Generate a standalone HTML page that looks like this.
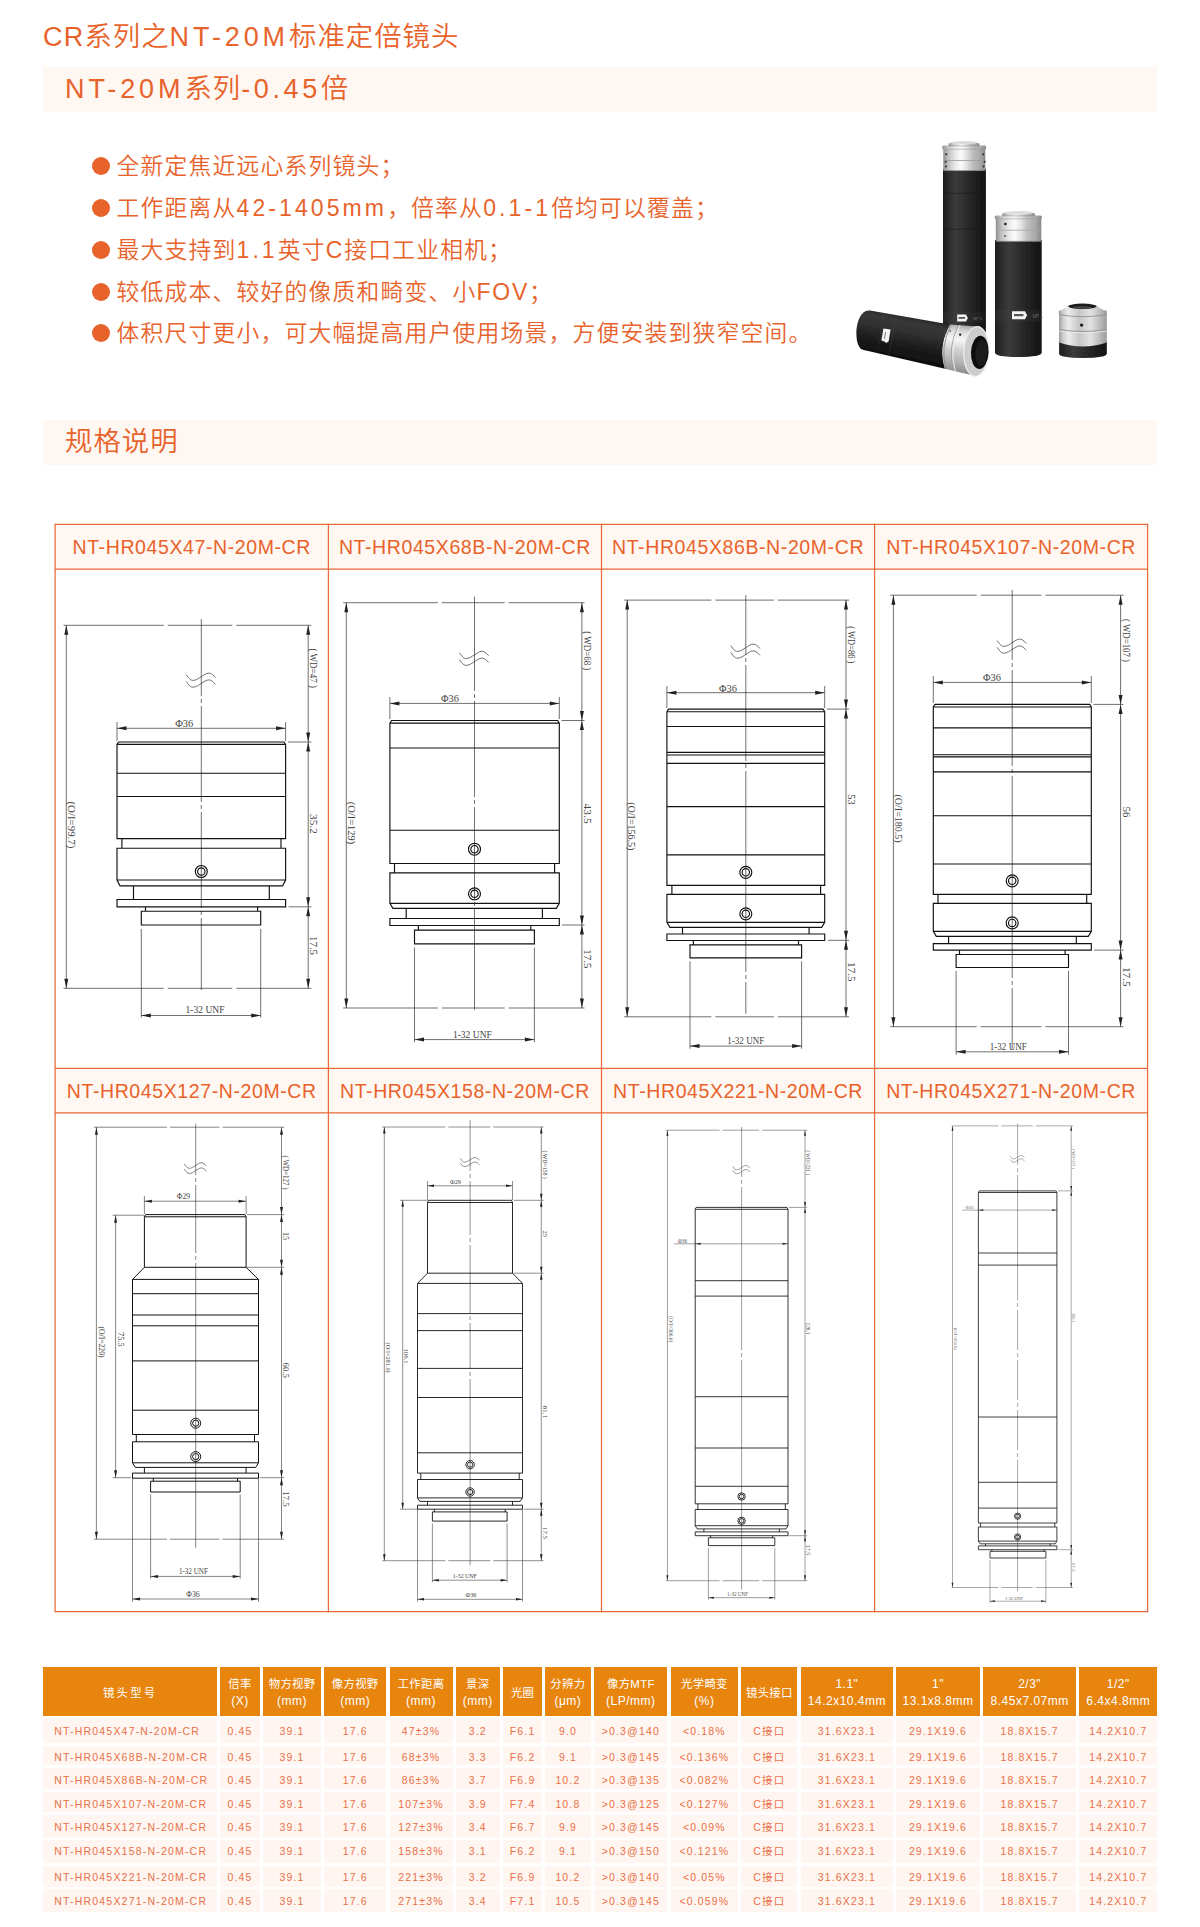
<!DOCTYPE html><html lang="zh-CN"><head><meta charset="utf-8"><title>CR系列之NT-20M标准定倍镜头</title><style>
*{box-sizing:border-box;margin:0;padding:0}
html,body{width:1200px;height:1927px;background:#fff;overflow:hidden}
body{font-family:"Liberation Sans","Noto Sans CJK SC",sans-serif;color:#e8632b;position:relative;font-weight:350}
.abs{position:absolute;white-space:nowrap}
b{font-weight:inherit}
.title{left:43px;top:18px;font-size:27.4px;line-height:38px;letter-spacing:1px}
.title b,.banner b{font-size:27px}
.bul b{font-size:23px}
.bul b.n{letter-spacing:3.1px}
.bul b.u{letter-spacing:1.75px}
.banner{left:43px;width:1114px;height:45px;background:#fff7f2}
.banner span{position:absolute;left:22px;top:0;line-height:43px;font-size:27.4px;letter-spacing:1px;white-space:nowrap}
.bul{left:92px;font-size:22.8px;line-height:30px;letter-spacing:1.2px}
.bul i{position:absolute;left:0;top:6px;width:18px;height:18px;border-radius:50%;background:#e8632b}
.bul span{margin-left:24.5px}
.gh{position:absolute;height:45px;line-height:46px;text-align:center;font-size:19.5px;letter-spacing:0.6px;background:#fff7f2;white-space:nowrap;font-weight:400}
.th{position:absolute;top:1667px;height:49px;background:#e8850f;color:#fff;text-align:center;font-size:11.4px;line-height:16.8px;padding-top:2.8px;white-space:nowrap;display:flex;flex-direction:column;justify-content:center;font-weight:400;letter-spacing:0.3px}
.th b{font-size:12px;letter-spacing:0.5px}
.td{position:absolute;background:#fff6f1;color:#ea7046;text-align:center;font-size:10.5px;white-space:nowrap;letter-spacing:1.15px;font-weight:400}
</style></head><body>
<div class="abs title"><b style="letter-spacing:1.2px">CR</b>系列之<b style="letter-spacing:3.9px">NT-20M</b>标准定倍镜头</div>
<div class="abs banner" style="top:67px"><span><b style="letter-spacing:3.9px">NT-20M</b>系列<b style="letter-spacing:3.6px">-0.45</b>倍</span></div>
<div class="abs bul" style="top:151.0px"><i></i><span>全新定焦近远心系列镜头；</span></div>
<div class="abs bul" style="top:193.3px"><i></i><span>工作距离从<b class="n">42-1405mm</b>，倍率从<b class="n">0.1-1</b>倍均可以覆盖；</span></div>
<div class="abs bul" style="top:235.0px"><i></i><span>最大支持到<b class="n">1.1</b>英寸<b class="u">C</b>接口工业相机；</span></div>
<div class="abs bul" style="top:276.7px"><i></i><span>较低成本、较好的像质和畸变、小<b class="u">FOV</b>；</span></div>
<div class="abs bul" style="top:317.7px"><i></i><span>体积尺寸更小，可大幅提高用户使用场景，方便安装到狭窄空间。</span></div>
<svg class="abs" style="left:830px;top:120px" width="320" height="260" viewBox="830 120 320 260">
<defs>
<linearGradient id="gk" x1="0" x2="1" y1="0" y2="0"><stop offset="0" stop-color="#1d1d1d"/><stop offset=".08" stop-color="#272727"/><stop offset=".3" stop-color="#3b3b3b"/><stop offset=".55" stop-color="#2b2b2b"/><stop offset=".8" stop-color="#1d1d1d"/><stop offset="1" stop-color="#121212"/></linearGradient>
<linearGradient id="gs" x1="0" x2="1" y1="0" y2="0"><stop offset="0" stop-color="#8c8c8c"/><stop offset=".05" stop-color="#a6a6a6"/><stop offset=".13" stop-color="#c4c4c4"/><stop offset=".3" stop-color="#ececec"/><stop offset=".42" stop-color="#fbfbfb"/><stop offset=".55" stop-color="#e4e4e4"/><stop offset=".7" stop-color="#bebebe"/><stop offset=".88" stop-color="#a8a8a8"/><stop offset="1" stop-color="#888"/></linearGradient>
<linearGradient id="gc" x1="0" x2="1" y1="0" y2="0"><stop offset="0" stop-color="#999"/><stop offset=".07" stop-color="#c9c9c9"/><stop offset=".2" stop-color="#ececec"/><stop offset=".42" stop-color="#c6c6c6"/><stop offset=".66" stop-color="#e2e2e2"/><stop offset=".85" stop-color="#bdbdbd"/><stop offset="1" stop-color="#9a9a9a"/></linearGradient>
<linearGradient id="gkd" gradientUnits="userSpaceOnUse" x1="912" y1="316" x2="903" y2="361"><stop offset="0" stop-color="#262626"/><stop offset=".15" stop-color="#383838"/><stop offset=".38" stop-color="#2f2f2f"/><stop offset=".65" stop-color="#1c1c1c"/><stop offset="1" stop-color="#0d0d0d"/></linearGradient>
<linearGradient id="gsd" gradientUnits="userSpaceOnUse" x1="962" y1="325" x2="955" y2="372"><stop offset="0" stop-color="#a8a8a8"/><stop offset=".14" stop-color="#dadada"/><stop offset=".32" stop-color="#f6f6f6"/><stop offset=".55" stop-color="#cfcfcf"/><stop offset=".8" stop-color="#b0b0b0"/><stop offset="1" stop-color="#8d8d8d"/></linearGradient>
<filter id="soft" x="-5%" y="-5%" width="110%" height="110%"><feGaussianBlur stdDeviation="0.45"/></filter>
</defs>
<g filter="url(#soft)">
<rect x="943" y="169" width="42.9" height="165" fill="url(#gk)"/>
<path d="M943 193.2H985.9M943 229.2H985.9" stroke="#171717" stroke-width=".6" fill="none"/>
<rect x="943" y="312" width="42.9" height="10" fill="#3a3a3a" opacity=".22"/>
<rect x="943.3" y="148.5" width="42" height="22.3" fill="url(#gs)"/>
<path d="M943.3 160.5H985.3" stroke="#9a9a9a" stroke-width=".8"/>
<path d="M943.3 170.6H985.3" stroke="#777" stroke-width=".6"/>
<rect x="942.2" y="145.6" width="44" height="3.8" rx="1.6" fill="url(#gs)"/>
<path d="M942.6 149.2H985.8" stroke="#999" stroke-width=".6"/>
<path d="M948.6 146V143.4Q964 138.4 979.5 143.4V146Z" fill="url(#gs)"/>
<ellipse cx="964" cy="142.6" rx="13.5" ry="1.7" fill="#dcdcdc"/>
<path d="M948.8 145.9H979.3" stroke="#8e8e8e" stroke-width=".6"/>
<circle cx="946.3" cy="154.3" r="1" fill="#33291f"/>
<circle cx="945.6" cy="161.8" r="1" fill="#33291f"/>
<circle cx="946.0" cy="166.6" r="1" fill="#33291f"/>
<circle cx="983.3" cy="154.3" r="1" fill="#33291f"/>
<circle cx="984.6" cy="161.8" r="1" fill="#33291f"/>
<circle cx="983.6" cy="166.6" r="1" fill="#33291f"/>
<path d="M957.2 314.6H966l1.8 3.4-1.8 3.4H957.2Z" fill="#f4f4f4"/>
<rect x="958.6" y="317" width="6.5" height="1.8" fill="#555"/>
<text x="973" y="320" font-size="4" fill="#6a6a6a" font-family="'Liberation Sans',sans-serif">MP 1</text>
<path d="M995 240H1041.7V352.5Q1041.7 357 1018.3 357Q995 357 995 352.5Z" fill="url(#gk)"/>
<rect x="995" y="309.8" width="46.7" height="11.6" fill="#444" opacity=".22"/>
<rect x="995.8" y="218.2" width="45.5" height="23.3" fill="url(#gs)"/>
<path d="M995.8 230.2H1041.3" stroke="#a2a2a2" stroke-width=".8"/>
<path d="M995.8 241.3H1041.3" stroke="#777" stroke-width=".6"/>
<rect x="994.7" y="215.6" width="47.2" height="3.4" rx="1.5" fill="url(#gs)"/>
<path d="M995 218.8H1041.6" stroke="#999" stroke-width=".6"/>
<path d="M1002.3 216V213.4Q1018.5 208.6 1034.9 213.4V216Z" fill="url(#gs)"/>
<ellipse cx="1018.6" cy="212.8" rx="14" ry="1.7" fill="#dedede"/>
<path d="M1002.5 215.9H1034.7" stroke="#8e8e8e" stroke-width=".6"/>
<circle cx="1005.4" cy="224" r="1.3" fill="#1c1c1c"/><circle cx="1005.2" cy="236" r="1.1" fill="#6b5a48"/>
<path d="M1012 311.2H1025l2 4-2 4H1012Z" fill="#f4f4f4"/>
<rect x="1014" y="314" width="9.5" height="2.2" fill="#555"/>
<text x="1032.6" y="317.5" font-size="4.5" fill="#6a6a6a" font-family="'Liberation Sans',sans-serif">MP 1</text>
<path d="M1059.1 341H1106.8V353.6Q1106.8 358 1083 358Q1059.1 358 1059.1 353.6Z" fill="url(#gk)"/>
<path d="M1059.1 314H1106.8V342.5Q1083 350.5 1059.1 342.5Z" fill="url(#gc)"/>
<path d="M1059.1 329.6Q1083 333.4 1106.8 329.6" stroke="#8e8e8e" stroke-width=".9" fill="none"/>
<path d="M1059.1 331Q1083 334.8 1106.8 331" stroke="#efefef" stroke-width=".8" fill="none"/>
<path d="M1058.8 311.5Q1058.8 310 1062 310L1068 306H1096.8L1103 310Q1106.9 310 1106.9 311.5V314.2Q1083 318.4 1058.8 314.2Z" fill="url(#gc)"/>
<path d="M1059.4 314.6Q1083 318.8 1106.4 314.6" stroke="#8a8a8a" stroke-width=".8" fill="none"/>
<ellipse cx="1082.4" cy="306.3" rx="14.2" ry="2.7" fill="#1a1a1a"/>
<ellipse cx="1082.4" cy="307.4" rx="10" ry="1.3" fill="#444"/>
<circle cx="1081.6" cy="325.1" r="1.7" fill="#1e1e1e"/>
<path d="M870 310.6L950 324.4Q938 347 945 368.8L863.8 350C852 348.6 854.5 308.4 870 310.6Z" fill="url(#gkd)"/>
<path d="M896.3 315.2L888.6 355.6" stroke="#4a4a4a" stroke-width=".6" opacity=".6"/>
<path d="M884.5 313.2L877.5 353" stroke="#4a4a4a" stroke-width=".5" opacity=".5"/>
<path d="M950 324.4L977 326.4L976 376.2L945 368.8Q938 347 950 324.4Z" fill="url(#gsd)"/>
<path d="M951.2 324.8Q939.4 347 946.2 369" stroke="#8c8c8c" stroke-width=".9" fill="none"/>
<path d="M958.4 325.2Q947 348 953.6 370.8" stroke="#9a9a9a" stroke-width=".8" fill="none"/>
<path d="M960 325.3Q948.6 348 955.2 371.2" stroke="#f4f4f4" stroke-width=".9" fill="none"/>
<ellipse cx="976.3" cy="351.4" rx="12.4" ry="24.9" transform="rotate(3 976.3 351.4)" fill="#cdcdcd" stroke="#eee" stroke-width="1.2"/>
<ellipse cx="979.8" cy="352.4" rx="8.8" ry="16.6" transform="rotate(3 979.6 352.4)" fill="#0f0f0f"/>
<ellipse cx="981.4" cy="352.8" rx="6" ry="13" transform="rotate(3 981.4 352.8)" fill="#1c1c1c"/>
<circle cx="950.2" cy="331" r=".9" fill="#7a6a58"/><circle cx="960.2" cy="334.6" r="1.2" fill="#222"/>
<path d="M883.4 328.4L890.6 329.6L888.6 341.6L886.2 343L884.4 341.6L881.4 340.4Z" fill="#f3f3f3"/>
<path d="M885.6 332L884.4 339" stroke="#777" stroke-width="1"/>
</g></svg>
<div class="abs banner" style="top:420px"><span>规格说明</span></div>
<div class="gh" style="left:55.1px;top:524.4px;width:273.3px">NT-HR045X47-N-20M-CR</div>
<div class="gh" style="left:328.4px;top:524.4px;width:273.1px">NT-HR045X68B-N-20M-CR</div>
<div class="gh" style="left:601.5px;top:524.4px;width:273.1px">NT-HR045X86B-N-20M-CR</div>
<div class="gh" style="left:874.6px;top:524.4px;width:273.0px">NT-HR045X107-N-20M-CR</div>
<div class="gh" style="left:55.1px;top:1068.3px;width:273.3px">NT-HR045X127-N-20M-CR</div>
<div class="gh" style="left:328.4px;top:1068.3px;width:273.1px">NT-HR045X158-N-20M-CR</div>
<div class="gh" style="left:601.5px;top:1068.3px;width:273.1px">NT-HR045X221-N-20M-CR</div>
<div class="gh" style="left:874.6px;top:1068.3px;width:273.0px">NT-HR045X271-N-20M-CR</div>
<svg class="abs" style="left:0;top:0" width="1200" height="1927" viewBox="0 0 1200 1927">
<g stroke="#e9693a" stroke-width="1.25" fill="none">
<line x1="55.1" y1="523.8" x2="55.1" y2="1612.3"/>
<line x1="328.4" y1="523.8" x2="328.4" y2="1612.3"/>
<line x1="601.5" y1="523.8" x2="601.5" y2="1612.3"/>
<line x1="874.6" y1="523.8" x2="874.6" y2="1612.3"/>
<line x1="1147.6" y1="523.8" x2="1147.6" y2="1612.3"/>
<line x1="55.1" y1="524.4" x2="1147.6" y2="524.4"/>
<line x1="55.1" y1="569.1" x2="1147.6" y2="569.1"/>
<line x1="55.1" y1="1068.3" x2="1147.6" y2="1068.3"/>
<line x1="55.1" y1="1112.9" x2="1147.6" y2="1112.9"/>
<line x1="55.1" y1="1611.7" x2="1147.6" y2="1611.7"/>
</g>
<path d="M63.5 625.3L163.8 625.3M167.8 625.3L232.3 625.3M236.3 625.3L311.3 625.3M63.5 988.3L163.8 988.3M167.8 988.3L232.3 988.3M236.3 988.3L311.3 988.3M201.3 619.0L201.3 696.0M201.3 699.0L201.3 703.0M201.3 706.0L201.3 802.0M201.3 805.0L201.3 809.0M201.3 812.0L201.3 908.0M201.3 911.0L201.3 915.0M201.3 918.0L201.3 990.0M66.3 625.3L66.3 988.3M308.2 625.3L308.2 742.0M308.2 742.0L308.2 906.8M308.2 906.8L308.2 988.3M288.0 742.0L311.3 742.0M288.5 906.8L311.3 906.8M186.3 674.6C189.3 679.1 190.8 680.4 193.0 680.4C196.3 680.4 198.8 678.1 201.3 676.6C203.8 675.1 206.3 673.1 208.7 673.1C211.3 673.1 213.3 675.1 215.4 677.5M186.3 681.4C189.3 685.9 190.8 687.2 193.0 687.2C196.3 687.2 198.8 684.9 201.3 683.4C203.8 681.9 206.3 679.9 208.7 679.9C211.3 679.9 213.3 681.9 215.4 684.3M117.0 728.3L285.6 728.3M117.0 722.0L117.0 741.0M285.6 722.0L285.6 741.0M141.3 929.0L141.3 1017.6M260.7 929.0L260.7 1017.6M141.3 1015.5L260.7 1015.5" fill="none" stroke="#333" stroke-width="0.70"/>
<path d="M117.0 744.4L118.6 742.0L284.0 742.0L285.6 744.4L285.6 838.6L117.0 838.6ZM117.0 744.4L285.6 744.4M117.0 773.2L285.6 773.2M117.0 796.5L285.6 796.5M121.9 838.6L121.9 848.2M281.0 838.6L281.0 848.2M117.0 848.2L285.6 848.2L285.6 880.0L282.6 885.8L120.0 885.8L117.0 880.0ZM117.0 880.0L285.6 880.0M133.5 885.8L133.5 899.5M269.3 885.8L269.3 899.5M117.0 899.5L285.6 899.5L285.6 906.8L117.0 906.8ZM145.5 906.8L145.5 911.2M257.6 906.8L257.6 911.2M141.3 911.2L260.7 911.2L260.7 925.0L141.3 925.0ZM195.3 871.5a6.0 6.0 0 1 0 12.0 0a6.0 6.0 0 1 0 -12.0 0M197.6 871.5a3.7 3.7 0 1 0 7.4 0a3.7 3.7 0 1 0 -7.4 0" fill="#fff" fill-opacity="0" stroke="#111" stroke-width="1.15" stroke-linejoin="miter"/>
<path d="M66.3 625.3L68.3 634.8L64.3 634.8ZM66.3 988.3L64.3 978.8L68.3 978.8ZM308.2 625.3L310.2 634.8L306.2 634.8ZM308.2 742.0L306.2 732.5L310.2 732.5ZM308.2 742.0L310.2 751.5L306.2 751.5ZM308.2 906.8L306.2 897.3L310.2 897.3ZM308.2 906.8L310.2 916.3L306.2 916.3ZM308.2 988.3L306.2 978.8L310.2 978.8ZM117.0 728.3L126.5 726.3L126.5 730.3ZM285.6 728.3L276.1 730.3L276.1 726.3ZM141.3 1015.5L150.8 1013.5L150.8 1017.5ZM260.7 1015.5L251.2 1017.5L251.2 1013.5Z" fill="#222" stroke="none"/>
<g font-family="'Liberation Serif',serif" fill="#444"><text transform="translate(67.7 824.9) rotate(90)" font-size="10.4" text-anchor="middle" textLength="47.0" lengthAdjust="spacingAndGlyphs">(O/I=99.7)</text><text transform="translate(310.3 668.2) rotate(90)" font-size="10.4" text-anchor="middle" textLength="39.5" lengthAdjust="spacingAndGlyphs">( WD=47 )</text><text transform="translate(310.3 823.9) rotate(90)" font-size="10.4" text-anchor="middle" textLength="19.7" lengthAdjust="spacingAndGlyphs">35.2</text><text transform="translate(310.3 945.5) rotate(90)" font-size="10.4" text-anchor="middle" textLength="19.2" lengthAdjust="spacingAndGlyphs">17.5</text><text x="184.2" y="727.1" font-size="10.4" text-anchor="middle" textLength="18.0" lengthAdjust="spacingAndGlyphs">Φ36</text><text x="205.0" y="1013.4" font-size="10.4" text-anchor="middle" textLength="39.0" lengthAdjust="spacingAndGlyphs">1-32 UNF</text></g>
<path d="M343.2 602.7L437.9 602.7M441.9 602.7L504.7 602.7M508.7 602.7L584.5 602.7M343.2 1008.0L437.9 1008.0M441.9 1008.0L504.7 1008.0M508.7 1008.0L584.5 1008.0M474.5 596.7L474.5 691.0M474.5 694.0L474.5 698.0M474.5 701.0L474.5 797.0M474.5 800.0L474.5 804.0M474.5 807.0L474.5 899.0M474.5 902.0L474.5 906.0M474.5 909.0L474.5 1009.8M346.3 602.7L346.3 1008.0M581.9 602.7L581.9 720.5M581.9 720.5L581.9 925.0M581.9 925.0L581.9 1008.0M561.5 720.5L584.5 720.5M562.0 925.0L584.5 925.0M459.5 652.8C462.5 657.3 464.0 658.6 466.2 658.6C469.5 658.6 472.0 656.3 474.5 654.8C477.0 653.3 479.5 651.3 481.9 651.3C484.5 651.3 486.5 653.3 488.6 655.7M459.5 659.6C462.5 664.1 464.0 665.4 466.2 665.4C469.5 665.4 472.0 663.1 474.5 661.6C477.0 660.1 479.5 658.1 481.9 658.1C484.5 658.1 486.5 660.1 488.6 662.5M389.9 703.4L559.3 703.4M389.9 697.0L389.9 719.0M559.3 697.0L559.3 719.0M414.5 947.5L414.5 1042.2M534.4 947.5L534.4 1042.2M414.5 1039.6L534.4 1039.6" fill="none" stroke="#333" stroke-width="0.70"/>
<path d="M389.9 723.1L391.5 720.5L557.7 720.5L559.3 723.1L559.3 863.5L389.9 863.5ZM389.9 723.1L559.3 723.1M389.9 748.0L559.3 748.0M389.9 830.2L559.3 830.2M394.5 863.5L394.5 872.8M554.6 863.5L554.6 872.8M389.9 872.8L559.3 872.8L559.3 903.4L556.3 908.3L392.9 908.3L389.9 903.4ZM389.9 903.4L559.3 903.4M406.2 908.3L406.2 918.5M542.4 908.3L542.4 918.5M389.9 918.5L559.3 918.5L559.3 925.5L389.9 925.5ZM418.4 925.5L418.4 930.1M530.8 925.5L530.8 930.1M414.5 930.1L534.4 930.1L534.4 943.9L414.5 943.9ZM468.5 849.2a6.0 6.0 0 1 0 12.0 0a6.0 6.0 0 1 0 -12.0 0M470.8 849.2a3.7 3.7 0 1 0 7.4 0a3.7 3.7 0 1 0 -7.4 0M468.5 893.8a6.0 6.0 0 1 0 12.0 0a6.0 6.0 0 1 0 -12.0 0M470.8 893.8a3.7 3.7 0 1 0 7.4 0a3.7 3.7 0 1 0 -7.4 0" fill="#fff" fill-opacity="0" stroke="#111" stroke-width="1.15" stroke-linejoin="miter"/>
<path d="M346.3 602.7L348.3 612.2L344.3 612.2ZM346.3 1008.0L344.3 998.5L348.3 998.5ZM581.9 602.7L583.9 612.2L579.9 612.2ZM581.9 720.5L579.9 711.0L583.9 711.0ZM581.9 720.5L583.9 730.0L579.9 730.0ZM581.9 925.0L579.9 915.5L583.9 915.5ZM581.9 925.0L583.9 934.5L579.9 934.5ZM581.9 1008.0L579.9 998.5L583.9 998.5ZM389.9 703.4L399.4 701.4L399.4 705.4ZM559.3 703.4L549.8 705.4L549.8 701.4ZM414.5 1039.6L424.0 1037.6L424.0 1041.6ZM534.4 1039.6L524.9 1041.6L524.9 1037.6Z" fill="#222" stroke="none"/>
<g font-family="'Liberation Serif',serif" fill="#444"><text transform="translate(347.7 823.0) rotate(90)" font-size="10.4" text-anchor="middle" textLength="42.4" lengthAdjust="spacingAndGlyphs">(O/I=129)</text><text transform="translate(584.0 650.8) rotate(90)" font-size="10.4" text-anchor="middle" textLength="39.0" lengthAdjust="spacingAndGlyphs">( WD=68 )</text><text transform="translate(584.0 813.6) rotate(90)" font-size="10.4" text-anchor="middle" textLength="20.0" lengthAdjust="spacingAndGlyphs">43.5</text><text transform="translate(584.0 958.9) rotate(90)" font-size="10.4" text-anchor="middle" textLength="19.2" lengthAdjust="spacingAndGlyphs">17.5</text><text x="450.0" y="702.2" font-size="10.4" text-anchor="middle" textLength="18.0" lengthAdjust="spacingAndGlyphs">Φ36</text><text x="472.4" y="1037.5" font-size="10.4" text-anchor="middle" textLength="39.0" lengthAdjust="spacingAndGlyphs">1-32 UNF</text></g>
<path d="M624.1 600.1L711.4 600.1M715.4 600.1L773.9 600.1M777.9 600.1L849.1 600.1M624.1 1016.8L711.4 1016.8M715.4 1016.8L773.9 1016.8M777.9 1016.8L849.1 1016.8M745.8 595.2L745.8 655.0M745.8 658.0L745.8 662.0M745.8 665.0L745.8 761.0M745.8 764.0L745.8 768.0M745.8 771.0L745.8 972.0M745.8 975.0L745.8 979.0M745.8 982.0L745.8 1013.7M627.2 600.1L627.2 1016.8M846.0 600.1L846.0 709.1M846.0 709.1L846.0 940.3M846.0 940.3L846.0 1016.8M827.0 709.1L849.1 709.1M828.0 940.3L849.1 940.3M730.8 645.6C733.8 650.1 735.3 651.4 737.5 651.4C740.8 651.4 743.3 649.1 745.8 647.6C748.3 646.1 750.8 644.1 753.2 644.1C755.8 644.1 757.8 646.1 759.9 648.5M730.8 652.4C733.8 656.9 735.3 658.2 737.5 658.2C740.8 658.2 743.3 655.9 745.8 654.4C748.3 652.9 750.8 650.9 753.2 650.9C755.8 650.9 757.8 652.9 759.9 655.3M666.9 692.7L824.7 692.7M666.9 686.0L666.9 708.0M824.7 686.0L824.7 708.0M690.0 961.3L690.0 1048.7M801.6 961.3L801.6 1048.7M690.0 1046.1L801.6 1046.1" fill="none" stroke="#333" stroke-width="0.70"/>
<path d="M666.9 711.7L668.5 709.1L823.1 709.1L824.7 711.7L824.7 885.3L666.9 885.3ZM666.9 711.7L824.7 711.7M666.9 726.5L824.7 726.5M666.9 752.4L824.7 752.4M666.9 755.0L824.7 755.0M666.9 763.3L824.7 763.3M666.9 806.6L824.7 806.6M666.9 854.9L824.7 854.9M671.9 885.3L671.9 894.3M820.6 885.3L820.6 894.3M666.9 894.3L824.7 894.3L824.7 922.4L821.7 927.3L669.9 927.3L666.9 922.4ZM666.9 922.4L824.7 922.4M682.5 927.3L682.5 934.0M809.1 927.3L809.1 934.0M666.9 934.0L824.7 934.0L824.7 940.5L666.9 940.5ZM693.4 940.5L693.4 944.9M798.5 940.5L798.5 944.9M690.0 944.9L801.6 944.9L801.6 957.9L690.0 957.9ZM739.8 872.3a6.0 6.0 0 1 0 12.0 0a6.0 6.0 0 1 0 -12.0 0M742.1 872.3a3.7 3.7 0 1 0 7.4 0a3.7 3.7 0 1 0 -7.4 0M739.8 913.8a6.0 6.0 0 1 0 12.0 0a6.0 6.0 0 1 0 -12.0 0M742.1 913.8a3.7 3.7 0 1 0 7.4 0a3.7 3.7 0 1 0 -7.4 0" fill="#fff" fill-opacity="0" stroke="#111" stroke-width="1.15" stroke-linejoin="miter"/>
<path d="M627.2 600.1L629.2 609.6L625.2 609.6ZM627.2 1016.8L625.2 1007.3L629.2 1007.3ZM846.0 600.1L848.0 609.6L844.0 609.6ZM846.0 709.1L844.0 699.6L848.0 699.6ZM846.0 709.1L848.0 718.6L844.0 718.6ZM846.0 940.3L844.0 930.8L848.0 930.8ZM846.0 940.3L848.0 949.8L844.0 949.8ZM846.0 1016.8L844.0 1007.3L848.0 1007.3ZM666.9 692.7L676.4 690.7L676.4 694.7ZM824.7 692.7L815.2 694.7L815.2 690.7ZM690.0 1046.1L699.5 1044.1L699.5 1048.1ZM801.6 1046.1L792.1 1048.1L792.1 1044.1Z" fill="#222" stroke="none"/>
<g font-family="'Liberation Serif',serif" fill="#444"><text transform="translate(628.4 826.3) rotate(90)" font-size="10.4" text-anchor="middle" textLength="48.3" lengthAdjust="spacingAndGlyphs">(O/I=156.5)</text><text transform="translate(848.1 644.8) rotate(90)" font-size="10.4" text-anchor="middle" textLength="37.0" lengthAdjust="spacingAndGlyphs">( WD=86 )</text><text transform="translate(848.1 799.5) rotate(90)" font-size="10.4" text-anchor="middle" textLength="10.3" lengthAdjust="spacingAndGlyphs">53</text><text transform="translate(848.1 971.8) rotate(90)" font-size="10.4" text-anchor="middle" textLength="19.4" lengthAdjust="spacingAndGlyphs">17.5</text><text x="728.0" y="691.5" font-size="10.4" text-anchor="middle" textLength="18.0" lengthAdjust="spacingAndGlyphs">Φ36</text><text x="745.8" y="1044.0" font-size="10.4" text-anchor="middle" textLength="37.0" lengthAdjust="spacingAndGlyphs">1-32 UNF</text></g>
<path d="M890.2 595.2L976.7 595.2M980.7 595.2L1041.4 595.2M1045.4 595.2L1123.5 595.2M890.2 1026.7L976.7 1026.7M980.7 1026.7L1041.4 1026.7M1045.4 1026.7L1123.5 1026.7M1012.2 590.0L1012.2 660.0M1012.2 663.0L1012.2 667.0M1012.2 670.0L1012.2 766.0M1012.2 769.0L1012.2 773.0M1012.2 776.0L1012.2 978.0M1012.2 981.0L1012.2 985.0M1012.2 988.0L1012.2 1048.7M893.4 595.2L893.4 1026.7M1120.6 595.2L1120.6 704.4M1120.6 704.4L1120.6 950.1M1120.6 950.1L1120.6 1026.7M1093.5 704.4L1123.5 704.4M1094.0 950.1L1123.5 950.1M997.2 640.6C1000.2 645.1 1001.7 646.4 1003.9 646.4C1007.2 646.4 1009.7 644.1 1012.2 642.6C1014.7 641.1 1017.2 639.1 1019.6 639.1C1022.2 639.1 1024.2 641.1 1026.3 643.5M997.2 647.4C1000.2 651.9 1001.7 653.2 1003.9 653.2C1007.2 653.2 1009.7 650.9 1012.2 649.4C1014.7 647.9 1017.2 645.9 1019.6 645.9C1022.2 645.9 1024.2 647.9 1026.3 650.3M933.3 682.4L1091.3 682.4M933.3 676.0L933.3 703.0M1091.3 676.0L1091.3 703.0M956.1 970.9L956.1 1054.7M1068.5 970.9L1068.5 1054.7M956.1 1051.8L1068.5 1051.8" fill="none" stroke="#333" stroke-width="0.70"/>
<path d="M933.3 707.0L934.9 704.4L1089.7 704.4L1091.3 707.0L1091.3 894.3L933.3 894.3ZM933.3 707.0L1091.3 707.0M933.3 727.8L1091.3 727.8M933.3 754.7L1091.3 754.7M933.3 756.8L1091.3 756.8M933.3 771.9L1091.3 771.9M933.3 815.7L1091.3 815.7M933.3 864.0L1091.3 864.0M938.0 894.3L938.0 903.4M1086.7 894.3L1086.7 903.4M933.3 903.4L1091.3 903.4L1091.3 931.4L1088.3 936.4L936.3 936.4L933.3 931.4ZM933.3 931.4L1091.3 931.4M948.6 936.4L948.6 943.6M1076.3 936.4L1076.3 943.6M933.3 943.6L1091.3 943.6L1091.3 950.1L933.3 950.1ZM959.5 950.1L959.5 954.5M1065.1 950.1L1065.1 954.5M956.1 954.5L1068.5 954.5L1068.5 967.5L956.1 967.5ZM1006.2 880.8a6.0 6.0 0 1 0 12.0 0a6.0 6.0 0 1 0 -12.0 0M1008.5 880.8a3.7 3.7 0 1 0 7.4 0a3.7 3.7 0 1 0 -7.4 0M1006.2 922.9a6.0 6.0 0 1 0 12.0 0a6.0 6.0 0 1 0 -12.0 0M1008.5 922.9a3.7 3.7 0 1 0 7.4 0a3.7 3.7 0 1 0 -7.4 0" fill="#fff" fill-opacity="0" stroke="#111" stroke-width="1.15" stroke-linejoin="miter"/>
<path d="M893.4 595.2L895.4 604.7L891.4 604.7ZM893.4 1026.7L891.4 1017.2L895.4 1017.2ZM1120.6 595.2L1122.6 604.7L1118.6 604.7ZM1120.6 704.4L1118.6 694.9L1122.6 694.9ZM1120.6 704.4L1122.6 713.9L1118.6 713.9ZM1120.6 950.1L1118.6 940.6L1122.6 940.6ZM1120.6 950.1L1122.6 959.6L1118.6 959.6ZM1120.6 1026.7L1118.6 1017.2L1122.6 1017.2ZM933.3 682.4L942.8 680.4L942.8 684.4ZM1091.3 682.4L1081.8 684.4L1081.8 680.4ZM956.1 1051.8L965.6 1049.8L965.6 1053.8ZM1068.5 1051.8L1059.0 1053.8L1059.0 1049.8Z" fill="#222" stroke="none"/>
<g font-family="'Liberation Serif',serif" fill="#444"><text transform="translate(894.9 818.6) rotate(90)" font-size="10.4" text-anchor="middle" textLength="48.2" lengthAdjust="spacingAndGlyphs">(O/I=180.5)</text><text transform="translate(1122.9 640.5) rotate(90)" font-size="10.4" text-anchor="middle" textLength="43.0" lengthAdjust="spacingAndGlyphs">( WD=107 )</text><text transform="translate(1122.9 812.1) rotate(90)" font-size="10.4" text-anchor="middle" textLength="10.5" lengthAdjust="spacingAndGlyphs">56</text><text transform="translate(1122.9 976.8) rotate(90)" font-size="10.4" text-anchor="middle" textLength="19.8" lengthAdjust="spacingAndGlyphs">17.5</text><text x="992.0" y="681.2" font-size="10.4" text-anchor="middle" textLength="18.0" lengthAdjust="spacingAndGlyphs">Φ36</text><text x="1008.3" y="1049.7" font-size="10.4" text-anchor="middle" textLength="37.0" lengthAdjust="spacingAndGlyphs">1-32 UNF</text></g>
<path d="M94.0 1127.2L167.0 1127.2M170.0 1127.2L219.5 1127.2M222.5 1127.2L284.2 1127.2M94.0 1539.2L167.0 1539.2M170.0 1539.2L219.5 1539.2M222.5 1539.2L284.2 1539.2M195.7 1123.7L195.7 1175.0M195.7 1178.0L195.7 1182.0M195.7 1185.0L195.7 1253.0M195.7 1256.0L195.7 1260.0M195.7 1263.0L195.7 1547.8M96.4 1127.2L96.4 1539.2M115.6 1215.2L115.6 1477.7M112.6 1215.2L144.4 1215.2M112.6 1477.7L131.0 1477.7M281.5 1127.2L281.5 1214.6M281.5 1214.6L281.5 1267.3M281.5 1267.3L281.5 1477.7M281.5 1477.7L281.5 1539.2M247.0 1214.6L284.2 1214.6M247.0 1267.3L284.2 1267.3M260.0 1477.7L284.2 1477.7M184.3 1163.9C186.6 1167.3 187.7 1168.3 189.4 1168.3C191.9 1168.3 193.8 1166.5 195.7 1165.4C197.6 1164.3 199.5 1162.7 201.3 1162.7C203.3 1162.7 204.8 1164.3 206.4 1166.1M184.3 1169.1C186.6 1172.5 187.7 1173.5 189.4 1173.5C191.9 1173.5 193.8 1171.7 195.7 1170.6C197.6 1169.5 199.5 1167.9 201.3 1167.9C203.3 1167.9 204.8 1169.5 206.4 1171.3M144.4 1201.2L246.1 1201.2M144.4 1196.0L144.4 1214.0M246.1 1196.0L246.1 1214.0M150.6 1494.4L150.6 1578.8M240.2 1494.4L240.2 1578.8M150.6 1576.4L240.2 1576.4M132.5 1478.2L132.5 1601.7M258.5 1478.2L258.5 1601.7M132.5 1599.0L258.5 1599.0" fill="none" stroke="#333" stroke-width="0.60"/>
<path d="M144.4 1216.8L145.6 1214.6L244.9 1214.6L246.1 1216.8L246.1 1267.3L258.5 1279.4L258.5 1434.5L132.5 1434.5L132.5 1279.4L144.4 1267.3ZM144.4 1216.8L246.1 1216.8M144.4 1267.3L246.1 1267.3M132.5 1279.4L258.5 1279.4M132.5 1293.7L258.5 1293.7M132.5 1315.0L258.5 1315.0M132.5 1325.8L258.5 1325.8M132.5 1360.9L258.5 1360.9M132.5 1410.2L258.5 1410.2M136.3 1434.5L136.3 1441.8M254.5 1434.5L254.5 1441.8M132.5 1441.8L258.5 1441.8L258.5 1462.8L255.7 1467.4L135.3 1467.4L132.5 1462.8ZM132.5 1462.8L258.5 1462.8M144.4 1467.4L144.4 1473.1M246.1 1467.4L246.1 1473.1M132.5 1473.1L258.5 1473.1L258.5 1478.2L132.5 1478.2ZM153.3 1478.2L153.3 1481.2M237.5 1478.2L237.5 1481.2M150.6 1481.2L240.2 1481.2L240.2 1492.0L150.6 1492.0ZM190.7 1423.2a5.0 5.0 0 1 0 10.0 0a5.0 5.0 0 1 0 -10.0 0M192.6 1423.2a3.1 3.1 0 1 0 6.2 0a3.1 3.1 0 1 0 -6.2 0M190.7 1456.6a5.0 5.0 0 1 0 10.0 0a5.0 5.0 0 1 0 -10.0 0M192.6 1456.6a3.1 3.1 0 1 0 6.2 0a3.1 3.1 0 1 0 -6.2 0" fill="#fff" fill-opacity="0" stroke="#111" stroke-width="1.00" stroke-linejoin="miter"/>
<path d="M96.4 1127.2L97.9 1134.7L94.9 1134.7ZM96.4 1539.2L94.9 1531.7L97.9 1531.7ZM115.6 1215.2L117.1 1222.7L114.1 1222.7ZM115.6 1477.7L114.1 1470.2L117.1 1470.2ZM281.5 1127.2L283.0 1134.7L280.0 1134.7ZM281.5 1214.6L280.0 1207.1L283.0 1207.1ZM281.5 1214.6L283.0 1222.1L280.0 1222.1ZM281.5 1267.3L280.0 1259.8L283.0 1259.8ZM281.5 1267.3L283.0 1274.8L280.0 1274.8ZM281.5 1477.7L280.0 1470.2L283.0 1470.2ZM281.5 1477.7L283.0 1485.2L280.0 1485.2ZM281.5 1539.2L280.0 1531.7L283.0 1531.7ZM144.4 1201.2L151.9 1199.7L151.9 1202.7ZM246.1 1201.2L238.6 1202.7L238.6 1199.7ZM150.6 1576.4L158.1 1574.9L158.1 1577.9ZM240.2 1576.4L232.7 1577.9L232.7 1574.9ZM132.5 1599.0L140.0 1597.5L140.0 1600.5ZM258.5 1599.0L251.0 1600.5L251.0 1597.5Z" fill="#222" stroke="none"/>
<g font-family="'Liberation Serif',serif" fill="#444"><text transform="translate(98.5 1342.0) rotate(90)" font-size="8.2" text-anchor="middle" textLength="31.0" lengthAdjust="spacingAndGlyphs">(O/I=220)</text><text transform="translate(117.6 1339.3) rotate(90)" font-size="8.2" text-anchor="middle" textLength="14.5" lengthAdjust="spacingAndGlyphs">75.5</text><text transform="translate(283.4 1172.6) rotate(90)" font-size="8.2" text-anchor="middle" textLength="34.0" lengthAdjust="spacingAndGlyphs">( WD=127 )</text><text transform="translate(283.4 1235.9) rotate(90)" font-size="8.2" text-anchor="middle" textLength="8.0" lengthAdjust="spacingAndGlyphs">15</text><text transform="translate(283.4 1370.3) rotate(90)" font-size="8.2" text-anchor="middle" textLength="15.4" lengthAdjust="spacingAndGlyphs">60.5</text><text transform="translate(283.4 1499.0) rotate(90)" font-size="8.2" text-anchor="middle" textLength="15.3" lengthAdjust="spacingAndGlyphs">17.5</text><text x="183.5" y="1199.0" font-size="8.2" text-anchor="middle" textLength="13.5" lengthAdjust="spacingAndGlyphs">Φ29</text><text x="193.4" y="1574.0" font-size="8.2" text-anchor="middle" textLength="29.0" lengthAdjust="spacingAndGlyphs">1-32 UNF</text><text x="193.0" y="1596.8" font-size="8.2" text-anchor="middle" textLength="13.5" lengthAdjust="spacingAndGlyphs">Φ36</text></g>
<path d="M382.2 1127.0L445.3 1127.0M448.3 1127.0L490.3 1127.0M493.3 1127.0L543.5 1127.0M382.2 1560.7L445.3 1560.7M448.3 1560.7L490.3 1560.7M493.3 1560.7L543.5 1560.7M470.1 1120.2L470.1 1171.0M470.1 1174.0L470.1 1178.0M470.1 1181.0L470.1 1235.0M470.1 1238.0L470.1 1242.0M470.1 1245.0L470.1 1313.0M470.1 1316.0L470.1 1320.0M470.1 1323.0L470.1 1369.0M470.1 1372.0L470.1 1376.0M470.1 1379.0L470.1 1565.3M384.3 1127.0L384.3 1560.7M402.7 1200.3L402.7 1509.2M400.0 1200.3L427.5 1200.3M400.0 1509.2L417.5 1509.2M541.3 1127.0L541.3 1200.3M541.3 1200.3L541.3 1273.2M541.3 1273.2L541.3 1509.2M541.3 1509.2L541.3 1560.7M513.5 1200.3L543.5 1200.3M513.5 1273.2L543.5 1273.2M524.0 1509.2L543.5 1509.2M460.3 1158.4C462.2 1161.4 463.2 1162.2 464.7 1162.2C466.8 1162.2 468.5 1160.7 470.1 1159.8C471.7 1158.8 473.4 1157.5 474.9 1157.5C476.7 1157.5 478.0 1158.8 479.3 1160.3M460.3 1162.9C462.2 1165.9 463.2 1166.7 464.7 1166.7C466.8 1166.7 468.5 1165.2 470.1 1164.2C471.7 1163.3 473.4 1162.0 474.9 1162.0C476.7 1162.0 478.0 1163.3 479.3 1164.8M427.5 1185.8L512.5 1185.8M427.5 1181.0L427.5 1200.0M512.5 1181.0L512.5 1200.0M432.4 1523.5L432.4 1582.3M507.1 1523.5L507.1 1582.3M432.4 1580.2L507.1 1580.2M417.5 1509.2L417.5 1601.7M522.5 1509.2L522.5 1601.7M417.5 1599.3L522.5 1599.3" fill="none" stroke="#333" stroke-width="0.55"/>
<path d="M427.5 1202.5L428.5 1200.3L511.5 1200.3L512.5 1202.5L512.5 1273.2L522.5 1283.4L522.5 1473.1L417.5 1473.1L417.5 1283.4L427.5 1273.2ZM427.5 1202.5L512.5 1202.5M427.5 1273.2L512.5 1273.2M417.5 1283.4L522.5 1283.4M417.5 1313.6L522.5 1313.6M417.5 1330.6L522.5 1330.6M417.5 1368.4L522.5 1368.4M417.5 1397.5L522.5 1397.5M417.5 1452.8L522.5 1452.8M420.8 1473.1L420.8 1479.5M519.2 1473.1L519.2 1479.5M417.5 1479.5L522.5 1479.5L522.5 1497.9L520.2 1501.4L419.8 1501.4L417.5 1497.9ZM417.5 1497.9L522.5 1497.9M427.5 1501.4L427.5 1505.2M512.5 1501.4L512.5 1505.2M417.5 1505.2L522.5 1505.2L522.5 1509.2L417.5 1509.2ZM434.3 1509.2L434.3 1511.9M505.2 1509.2L505.2 1511.9M432.4 1511.9L507.1 1511.9L507.1 1521.1L432.4 1521.1ZM465.9 1464.7a4.2 4.2 0 1 0 8.4 0a4.2 4.2 0 1 0 -8.4 0M467.5 1464.7a2.6 2.6 0 1 0 5.2 0a2.6 2.6 0 1 0 -5.2 0M465.9 1492.0a4.2 4.2 0 1 0 8.4 0a4.2 4.2 0 1 0 -8.4 0M467.5 1492.0a2.6 2.6 0 1 0 5.2 0a2.6 2.6 0 1 0 -5.2 0" fill="#fff" fill-opacity="0" stroke="#111" stroke-width="0.90" stroke-linejoin="miter"/>
<path d="M384.3 1127.0L385.6 1133.5L383.1 1133.5ZM384.3 1560.7L383.1 1554.2L385.6 1554.2ZM402.7 1200.3L403.9 1206.8L401.4 1206.8ZM402.7 1509.2L401.4 1502.7L403.9 1502.7ZM541.3 1127.0L542.5 1133.5L540.0 1133.5ZM541.3 1200.3L540.0 1193.8L542.5 1193.8ZM541.3 1200.3L542.5 1206.8L540.0 1206.8ZM541.3 1273.2L540.0 1266.7L542.5 1266.7ZM541.3 1273.2L542.5 1279.7L540.0 1279.7ZM541.3 1509.2L540.0 1502.7L542.5 1502.7ZM541.3 1509.2L542.5 1515.7L540.0 1515.7ZM541.3 1560.7L540.0 1554.2L542.5 1554.2ZM427.5 1185.8L434.0 1184.5L434.0 1187.0ZM512.5 1185.8L506.0 1187.0L506.0 1184.5ZM432.4 1580.2L438.9 1579.0L438.9 1581.5ZM507.1 1580.2L500.6 1581.5L500.6 1579.0ZM417.5 1599.3L424.0 1598.0L424.0 1600.5ZM522.5 1599.3L516.0 1600.5L516.0 1598.0Z" fill="#222" stroke="none"/>
<g font-family="'Liberation Serif',serif" fill="#444"><text transform="translate(386.0 1357.6) rotate(90)" font-size="6.8" text-anchor="middle" textLength="30.0" lengthAdjust="spacingAndGlyphs">(O/I=281.6)</text><text transform="translate(404.4 1356.0) rotate(90)" font-size="6.8" text-anchor="middle" textLength="15.0" lengthAdjust="spacingAndGlyphs">106.1</text><text transform="translate(542.9 1164.6) rotate(90)" font-size="6.8" text-anchor="middle" textLength="28.3" lengthAdjust="spacingAndGlyphs">( WD=158 )</text><text transform="translate(542.9 1233.7) rotate(90)" font-size="6.8" text-anchor="middle" textLength="6.5" lengthAdjust="spacingAndGlyphs">25</text><text transform="translate(542.9 1411.9) rotate(90)" font-size="6.8" text-anchor="middle" textLength="13.0" lengthAdjust="spacingAndGlyphs">81.1</text><text transform="translate(542.9 1533.0) rotate(90)" font-size="6.8" text-anchor="middle" textLength="12.0" lengthAdjust="spacingAndGlyphs">17.5</text><text x="455.5" y="1184.0" font-size="6.8" text-anchor="middle" textLength="11.0" lengthAdjust="spacingAndGlyphs">Φ29</text><text x="464.8" y="1578.2" font-size="6.8" text-anchor="middle" textLength="24.0" lengthAdjust="spacingAndGlyphs">1-32 UNF</text><text x="471.0" y="1597.4" font-size="6.8" text-anchor="middle" textLength="11.0" lengthAdjust="spacingAndGlyphs">Φ36</text></g>
<path d="M666.1 1130.2L719.6 1130.2M722.6 1130.2L759.2 1130.2M762.2 1130.2L807.2 1130.2M666.1 1580.7L719.6 1580.7M722.6 1580.7L759.2 1580.7M762.2 1580.7L807.2 1580.7M741.6 1127.0L741.6 1177.0M741.6 1180.0L741.6 1184.0M741.6 1187.0L741.6 1350.0M741.6 1353.0L741.6 1357.0M741.6 1360.0L741.6 1589.6M667.4 1130.2L667.4 1580.7M805.0 1130.2L805.0 1207.4M805.0 1207.4L805.0 1535.7M805.0 1535.7L805.0 1580.7M789.0 1207.4L807.2 1207.4M789.0 1535.7L807.2 1535.7M732.8 1166.4C734.6 1169.1 735.4 1169.8 736.7 1169.8C738.7 1169.8 740.1 1168.5 741.6 1167.6C743.1 1166.7 744.5 1165.5 745.9 1165.5C747.5 1165.5 748.6 1166.7 749.9 1168.1M732.8 1170.4C734.6 1173.1 735.4 1173.8 736.7 1173.8C738.7 1173.8 740.1 1172.5 741.6 1171.6C743.1 1170.7 744.5 1169.5 745.9 1169.5C747.5 1169.5 748.6 1170.7 749.9 1172.1M674.2 1243.8L788.0 1243.8M708.4 1547.8L708.4 1599.6M774.8 1547.8L774.8 1599.6M708.4 1597.7L774.8 1597.7" fill="none" stroke="#3c3c3c" stroke-width="0.50"/>
<path d="M695.2 1209.3L696.1 1207.4L787.1 1207.4L788.0 1209.3L788.0 1503.8L695.2 1503.8ZM695.2 1209.3L788.0 1209.3M695.2 1280.7L788.0 1280.7M695.2 1296.1L788.0 1296.1M695.2 1396.7L788.0 1396.7M695.2 1448.0L788.0 1448.0M695.2 1486.3L788.0 1486.3M697.9 1503.8L697.9 1509.5M785.3 1503.8L785.3 1509.5M695.2 1509.5L788.0 1509.5L788.0 1525.7L786.0 1528.9L697.2 1528.9L695.2 1525.7ZM695.2 1525.7L788.0 1525.7M703.9 1528.9L703.9 1531.9M779.4 1528.9L779.4 1531.9M695.2 1531.9L788.0 1531.9L788.0 1535.7L695.2 1535.7ZM710.6 1535.7L710.6 1537.8M772.6 1535.7L772.6 1537.8M708.4 1537.8L774.8 1537.8L774.8 1545.6L708.4 1545.6ZM737.9 1496.5a3.7 3.7 0 1 0 7.4 0a3.7 3.7 0 1 0 -7.4 0M739.3 1496.5a2.3 2.3 0 1 0 4.6 0a2.3 2.3 0 1 0 -4.6 0M737.9 1520.8a3.7 3.7 0 1 0 7.4 0a3.7 3.7 0 1 0 -7.4 0M739.3 1520.8a2.3 2.3 0 1 0 4.6 0a2.3 2.3 0 1 0 -4.6 0" fill="#fff" fill-opacity="0" stroke="#111" stroke-width="0.85" stroke-linejoin="miter"/>
<path d="M667.4 1130.2L668.4 1135.7L666.4 1135.7ZM667.4 1580.7L666.4 1575.2L668.4 1575.2ZM805.0 1130.2L806.0 1135.7L804.0 1135.7ZM805.0 1207.4L804.0 1201.9L806.0 1201.9ZM805.0 1207.4L806.0 1212.9L804.0 1212.9ZM805.0 1535.7L804.0 1530.2L806.0 1530.2ZM805.0 1535.7L806.0 1541.2L804.0 1541.2ZM805.0 1580.7L804.0 1575.2L806.0 1575.2ZM695.2 1243.8L700.7 1242.8L700.7 1244.8ZM788.0 1243.8L782.5 1244.8L782.5 1242.8ZM708.4 1597.7L713.9 1596.7L713.9 1598.7ZM774.8 1597.7L769.3 1598.7L769.3 1596.7Z" fill="#222" stroke="none"/>
<g font-family="'Liberation Serif',serif" fill="#555"><text transform="translate(669.2 1329.3) rotate(90)" font-size="5.6" text-anchor="middle" textLength="26.0" lengthAdjust="spacingAndGlyphs">(O/I=366.6)</text><text transform="translate(806.3 1162.7) rotate(90)" font-size="5.6" text-anchor="middle" textLength="24.4" lengthAdjust="spacingAndGlyphs">( WD=221 )</text><text transform="translate(806.3 1328.5) rotate(90)" font-size="5.6" text-anchor="middle" textLength="12.0" lengthAdjust="spacingAndGlyphs">128.1</text><text transform="translate(806.3 1549.9) rotate(90)" font-size="5.6" text-anchor="middle" textLength="11.0" lengthAdjust="spacingAndGlyphs">17.5</text><text x="682.5" y="1242.6" font-size="5.6" text-anchor="middle" textLength="9.0" lengthAdjust="spacingAndGlyphs">Φ36</text><text x="737.6" y="1596.1" font-size="5.6" text-anchor="middle" textLength="21.0" lengthAdjust="spacingAndGlyphs">1-32 UNF</text></g>
<path d="M951.5 1125.9L998.2 1125.9M1001.2 1125.9L1032.8 1125.9M1035.8 1125.9L1072.9 1125.9M951.5 1587.5L998.2 1587.5M1001.2 1587.5L1032.8 1587.5M1035.8 1587.5L1072.9 1587.5M1017.6 1123.5L1017.6 1165.0M1017.6 1168.0L1017.6 1172.0M1017.6 1175.0L1017.6 1300.0M1017.6 1303.0L1017.6 1307.0M1017.6 1310.0L1017.6 1350.0M1017.6 1353.0L1017.6 1357.0M1017.6 1360.0L1017.6 1400.0M1017.6 1403.0L1017.6 1407.0M1017.6 1410.0L1017.6 1450.0M1017.6 1453.0L1017.6 1457.0M1017.6 1460.0L1017.6 1591.5M952.5 1125.9L952.5 1587.5M1071.2 1125.9L1071.2 1190.9M1071.2 1190.9L1071.2 1549.7M1071.2 1549.7L1071.2 1587.5M1058.0 1190.9L1072.9 1190.9M1058.0 1549.7L1072.9 1549.7M1010.4 1156.1C1011.8 1158.3 1012.5 1158.9 1013.6 1158.9C1015.2 1158.9 1016.4 1157.8 1017.6 1157.1C1018.8 1156.4 1020.0 1155.4 1021.2 1155.4C1022.4 1155.4 1023.4 1156.4 1024.4 1157.5M1010.4 1159.5C1011.8 1161.7 1012.5 1162.3 1013.6 1162.3C1015.2 1162.3 1016.4 1161.2 1017.6 1160.5C1018.8 1159.8 1020.0 1158.8 1021.2 1158.8C1022.4 1158.8 1023.4 1159.8 1024.4 1160.9M962.5 1210.1L1056.9 1210.1M990.0 1560.0L990.0 1603.1M1045.9 1560.0L1045.9 1603.1M990.0 1601.2L1045.9 1601.2" fill="none" stroke="#404040" stroke-width="0.45"/>
<path d="M978.4 1192.5L979.2 1190.9L1056.1 1190.9L1056.9 1192.5L1056.9 1523.0L978.4 1523.0ZM978.4 1192.5L1056.9 1192.5M978.4 1253.0L1056.9 1253.0M978.4 1265.1L1056.9 1265.1M978.4 1417.0L1056.9 1417.0M978.4 1482.3L1056.9 1482.3M978.4 1508.1L1056.9 1508.1M980.6 1523.0L980.6 1527.0M1054.8 1523.0L1054.8 1527.0M978.4 1527.0L1056.9 1527.0L1056.9 1541.1L1055.2 1543.8L980.1 1543.8L978.4 1541.1ZM978.4 1541.1L1056.9 1541.1M985.5 1543.8L985.5 1545.9M1050.2 1543.8L1050.2 1545.9M978.4 1545.9L1056.9 1545.9L1056.9 1549.7L978.4 1549.7ZM991.9 1549.7L991.9 1551.3M1044.0 1549.7L1044.0 1551.3M990.0 1551.3L1045.9 1551.3L1045.9 1558.0L990.0 1558.0ZM1014.5 1516.2a3.1 3.1 0 1 0 6.2 0a3.1 3.1 0 1 0 -6.2 0M1015.7 1516.2a1.9 1.9 0 1 0 3.8 0a1.9 1.9 0 1 0 -3.8 0M1014.5 1537.0a3.1 3.1 0 1 0 6.2 0a3.1 3.1 0 1 0 -6.2 0M1015.7 1537.0a1.9 1.9 0 1 0 3.8 0a1.9 1.9 0 1 0 -3.8 0" fill="#fff" fill-opacity="0" stroke="#111" stroke-width="0.80" stroke-linejoin="miter"/>
<path d="M952.5 1125.9L953.4 1130.7L951.6 1130.7ZM952.5 1587.5L951.6 1582.7L953.4 1582.7ZM1071.2 1125.9L1072.1 1130.7L1070.3 1130.7ZM1071.2 1190.9L1070.3 1186.1L1072.1 1186.1ZM1071.2 1190.9L1072.1 1195.7L1070.3 1195.7ZM1071.2 1549.7L1070.3 1544.9L1072.1 1544.9ZM1071.2 1549.7L1072.1 1554.5L1070.3 1554.5ZM1071.2 1587.5L1070.3 1582.7L1072.1 1582.7ZM978.4 1210.1L983.2 1209.2L983.2 1211.0ZM1056.9 1210.1L1052.1 1211.0L1052.1 1209.2ZM990.0 1601.2L994.8 1600.3L994.8 1602.1ZM1045.9 1601.2L1041.1 1602.1L1041.1 1600.3Z" fill="#222" stroke="none"/>
<g font-family="'Liberation Serif',serif" fill="#5a5a5a"><text transform="translate(954.0 1338.7) rotate(90)" font-size="4.8" text-anchor="middle" textLength="22.0" lengthAdjust="spacingAndGlyphs">(O/I=454.6)</text><text transform="translate(1072.3 1159.0) rotate(90)" font-size="4.8" text-anchor="middle" textLength="20.0" lengthAdjust="spacingAndGlyphs">( WD=271 )</text><text transform="translate(1072.3 1318.0) rotate(90)" font-size="4.8" text-anchor="middle" textLength="9.0" lengthAdjust="spacingAndGlyphs">205.1</text><text transform="translate(1072.3 1567.2) rotate(90)" font-size="4.8" text-anchor="middle" textLength="8.8" lengthAdjust="spacingAndGlyphs">17.5</text><text x="969.5" y="1209.0" font-size="4.8" text-anchor="middle" textLength="8.0" lengthAdjust="spacingAndGlyphs">Φ36</text><text x="1014.0" y="1599.8" font-size="4.8" text-anchor="middle" textLength="18.0" lengthAdjust="spacingAndGlyphs">1-32 UNF</text></g>
</svg>
<div class="th" style="left:43.3px;width:173.7px;letter-spacing:2.2px"><div>镜头型号</div></div>
<div class="th" style="left:220.0px;width:40.0px"><div>倍率</div><div><b>(X)</b></div></div>
<div class="th" style="left:263.0px;width:58.2px"><div>物方视野</div><div><b>(mm)</b></div></div>
<div class="th" style="left:324.2px;width:62.0px"><div>像方视野</div><div><b>(mm)</b></div></div>
<div class="th" style="left:389.5px;width:63.0px"><div>工作距离</div><div><b>(mm)</b></div></div>
<div class="th" style="left:455.5px;width:44.5px"><div>景深</div><div><b>(mm)</b></div></div>
<div class="th" style="left:503.2px;width:38.8px"><div>光圈</div></div>
<div class="th" style="left:545.0px;width:45.8px"><div>分辨力</div><div><b>(μm)</b></div></div>
<div class="th" style="left:594.2px;width:73.3px"><div>像方MTF</div><div><b>(LP/mm)</b></div></div>
<div class="th" style="left:670.8px;width:67.2px"><div>光学畸变</div><div><b>(%)</b></div></div>
<div class="th" style="left:741.2px;width:56.3px"><div>镜头接口</div></div>
<div class="th" style="left:801.0px;width:91.8px"><div><b>1.1"</b></div><div><b>14.2x10.4mm</b></div></div>
<div class="th" style="left:896.0px;width:84.0px"><div><b>1"</b></div><div><b>13.1x8.8mm</b></div></div>
<div class="th" style="left:983.3px;width:92.7px"><div><b>2/3"</b></div><div><b>8.45x7.07mm</b></div></div>
<div class="th" style="left:1079.3px;width:78.0px"><div><b>1/2"</b></div><div><b>6.4x4.8mm</b></div></div>
<div class="td" style="left:43.3px;width:173.7px;top:1718.2px;height:24.7px;line-height:26.0px;text-align:left;padding-left:10.9px;letter-spacing:1.2px">NT-HR045X47-N-20M-CR</div>
<div class="td" style="left:220.0px;width:40.0px;top:1718.2px;height:24.7px;line-height:26.0px">0.45</div>
<div class="td" style="left:263.0px;width:58.2px;top:1718.2px;height:24.7px;line-height:26.0px">39.1</div>
<div class="td" style="left:324.2px;width:62.0px;top:1718.2px;height:24.7px;line-height:26.0px">17.6</div>
<div class="td" style="left:389.5px;width:63.0px;top:1718.2px;height:24.7px;line-height:26.0px">47±3%</div>
<div class="td" style="left:455.5px;width:44.5px;top:1718.2px;height:24.7px;line-height:26.0px">3.2</div>
<div class="td" style="left:503.2px;width:38.8px;top:1718.2px;height:24.7px;line-height:26.0px">F6.1</div>
<div class="td" style="left:545.0px;width:45.8px;top:1718.2px;height:24.7px;line-height:26.0px">9.0</div>
<div class="td" style="left:594.2px;width:73.3px;top:1718.2px;height:24.7px;line-height:26.0px">&gt;0.3@140</div>
<div class="td" style="left:670.8px;width:67.2px;top:1718.2px;height:24.7px;line-height:26.0px">&lt;0.18%</div>
<div class="td" style="left:741.2px;width:56.3px;top:1718.2px;height:24.7px;line-height:26.0px">C接口</div>
<div class="td" style="left:801.0px;width:91.8px;top:1718.2px;height:24.7px;line-height:26.0px">31.6X23.1</div>
<div class="td" style="left:896.0px;width:84.0px;top:1718.2px;height:24.7px;line-height:26.0px">29.1X19.6</div>
<div class="td" style="left:983.3px;width:92.7px;top:1718.2px;height:24.7px;line-height:26.0px">18.8X15.7</div>
<div class="td" style="left:1079.3px;width:78.0px;top:1718.2px;height:24.7px;line-height:26.0px">14.2X10.7</div>
<div class="td" style="left:43.3px;width:173.7px;top:1745.7px;height:19.4px;line-height:22.6px;text-align:left;padding-left:10.9px;letter-spacing:1.2px">NT-HR045X68B-N-20M-CR</div>
<div class="td" style="left:220.0px;width:40.0px;top:1745.7px;height:19.4px;line-height:22.6px">0.45</div>
<div class="td" style="left:263.0px;width:58.2px;top:1745.7px;height:19.4px;line-height:22.6px">39.1</div>
<div class="td" style="left:324.2px;width:62.0px;top:1745.7px;height:19.4px;line-height:22.6px">17.6</div>
<div class="td" style="left:389.5px;width:63.0px;top:1745.7px;height:19.4px;line-height:22.6px">68±3%</div>
<div class="td" style="left:455.5px;width:44.5px;top:1745.7px;height:19.4px;line-height:22.6px">3.3</div>
<div class="td" style="left:503.2px;width:38.8px;top:1745.7px;height:19.4px;line-height:22.6px">F6.2</div>
<div class="td" style="left:545.0px;width:45.8px;top:1745.7px;height:19.4px;line-height:22.6px">9.1</div>
<div class="td" style="left:594.2px;width:73.3px;top:1745.7px;height:19.4px;line-height:22.6px">&gt;0.3@145</div>
<div class="td" style="left:670.8px;width:67.2px;top:1745.7px;height:19.4px;line-height:22.6px">&lt;0.136%</div>
<div class="td" style="left:741.2px;width:56.3px;top:1745.7px;height:19.4px;line-height:22.6px">C接口</div>
<div class="td" style="left:801.0px;width:91.8px;top:1745.7px;height:19.4px;line-height:22.6px">31.6X23.1</div>
<div class="td" style="left:896.0px;width:84.0px;top:1745.7px;height:19.4px;line-height:22.6px">29.1X19.6</div>
<div class="td" style="left:983.3px;width:92.7px;top:1745.7px;height:19.4px;line-height:22.6px">18.8X15.7</div>
<div class="td" style="left:1079.3px;width:78.0px;top:1745.7px;height:19.4px;line-height:22.6px">14.2X10.7</div>
<div class="td" style="left:43.3px;width:173.7px;top:1767.7px;height:21.0px;line-height:24.6px;text-align:left;padding-left:10.9px;letter-spacing:1.2px">NT-HR045X86B-N-20M-CR</div>
<div class="td" style="left:220.0px;width:40.0px;top:1767.7px;height:21.0px;line-height:24.6px">0.45</div>
<div class="td" style="left:263.0px;width:58.2px;top:1767.7px;height:21.0px;line-height:24.6px">39.1</div>
<div class="td" style="left:324.2px;width:62.0px;top:1767.7px;height:21.0px;line-height:24.6px">17.6</div>
<div class="td" style="left:389.5px;width:63.0px;top:1767.7px;height:21.0px;line-height:24.6px">86±3%</div>
<div class="td" style="left:455.5px;width:44.5px;top:1767.7px;height:21.0px;line-height:24.6px">3.7</div>
<div class="td" style="left:503.2px;width:38.8px;top:1767.7px;height:21.0px;line-height:24.6px">F6.9</div>
<div class="td" style="left:545.0px;width:45.8px;top:1767.7px;height:21.0px;line-height:24.6px">10.2</div>
<div class="td" style="left:594.2px;width:73.3px;top:1767.7px;height:21.0px;line-height:24.6px">&gt;0.3@135</div>
<div class="td" style="left:670.8px;width:67.2px;top:1767.7px;height:21.0px;line-height:24.6px">&lt;0.082%</div>
<div class="td" style="left:741.2px;width:56.3px;top:1767.7px;height:21.0px;line-height:24.6px">C接口</div>
<div class="td" style="left:801.0px;width:91.8px;top:1767.7px;height:21.0px;line-height:24.6px">31.6X23.1</div>
<div class="td" style="left:896.0px;width:84.0px;top:1767.7px;height:21.0px;line-height:24.6px">29.1X19.6</div>
<div class="td" style="left:983.3px;width:92.7px;top:1767.7px;height:21.0px;line-height:24.6px">18.8X15.7</div>
<div class="td" style="left:1079.3px;width:78.0px;top:1767.7px;height:21.0px;line-height:24.6px">14.2X10.7</div>
<div class="td" style="left:43.3px;width:173.7px;top:1791.5px;height:20.9px;line-height:25.0px;text-align:left;padding-left:10.9px;letter-spacing:1.2px">NT-HR045X107-N-20M-CR</div>
<div class="td" style="left:220.0px;width:40.0px;top:1791.5px;height:20.9px;line-height:25.0px">0.45</div>
<div class="td" style="left:263.0px;width:58.2px;top:1791.5px;height:20.9px;line-height:25.0px">39.1</div>
<div class="td" style="left:324.2px;width:62.0px;top:1791.5px;height:20.9px;line-height:25.0px">17.6</div>
<div class="td" style="left:389.5px;width:63.0px;top:1791.5px;height:20.9px;line-height:25.0px">107±3%</div>
<div class="td" style="left:455.5px;width:44.5px;top:1791.5px;height:20.9px;line-height:25.0px">3.9</div>
<div class="td" style="left:503.2px;width:38.8px;top:1791.5px;height:20.9px;line-height:25.0px">F7.4</div>
<div class="td" style="left:545.0px;width:45.8px;top:1791.5px;height:20.9px;line-height:25.0px">10.8</div>
<div class="td" style="left:594.2px;width:73.3px;top:1791.5px;height:20.9px;line-height:25.0px">&gt;0.3@125</div>
<div class="td" style="left:670.8px;width:67.2px;top:1791.5px;height:20.9px;line-height:25.0px">&lt;0.127%</div>
<div class="td" style="left:741.2px;width:56.3px;top:1791.5px;height:20.9px;line-height:25.0px">C接口</div>
<div class="td" style="left:801.0px;width:91.8px;top:1791.5px;height:20.9px;line-height:25.0px">31.6X23.1</div>
<div class="td" style="left:896.0px;width:84.0px;top:1791.5px;height:20.9px;line-height:25.0px">29.1X19.6</div>
<div class="td" style="left:983.3px;width:92.7px;top:1791.5px;height:20.9px;line-height:25.0px">18.8X15.7</div>
<div class="td" style="left:1079.3px;width:78.0px;top:1791.5px;height:20.9px;line-height:25.0px">14.2X10.7</div>
<div class="td" style="left:43.3px;width:173.7px;top:1815.2px;height:22.4px;line-height:25.6px;text-align:left;padding-left:10.9px;letter-spacing:1.2px">NT-HR045X127-N-20M-CR</div>
<div class="td" style="left:220.0px;width:40.0px;top:1815.2px;height:22.4px;line-height:25.6px">0.45</div>
<div class="td" style="left:263.0px;width:58.2px;top:1815.2px;height:22.4px;line-height:25.6px">39.1</div>
<div class="td" style="left:324.2px;width:62.0px;top:1815.2px;height:22.4px;line-height:25.6px">17.6</div>
<div class="td" style="left:389.5px;width:63.0px;top:1815.2px;height:22.4px;line-height:25.6px">127±3%</div>
<div class="td" style="left:455.5px;width:44.5px;top:1815.2px;height:22.4px;line-height:25.6px">3.4</div>
<div class="td" style="left:503.2px;width:38.8px;top:1815.2px;height:22.4px;line-height:25.6px">F6.7</div>
<div class="td" style="left:545.0px;width:45.8px;top:1815.2px;height:22.4px;line-height:25.6px">9.9</div>
<div class="td" style="left:594.2px;width:73.3px;top:1815.2px;height:22.4px;line-height:25.6px">&gt;0.3@145</div>
<div class="td" style="left:670.8px;width:67.2px;top:1815.2px;height:22.4px;line-height:25.6px">&lt;0.09%</div>
<div class="td" style="left:741.2px;width:56.3px;top:1815.2px;height:22.4px;line-height:25.6px">C接口</div>
<div class="td" style="left:801.0px;width:91.8px;top:1815.2px;height:22.4px;line-height:25.6px">31.6X23.1</div>
<div class="td" style="left:896.0px;width:84.0px;top:1815.2px;height:22.4px;line-height:25.6px">29.1X19.6</div>
<div class="td" style="left:983.3px;width:92.7px;top:1815.2px;height:22.4px;line-height:25.6px">18.8X15.7</div>
<div class="td" style="left:1079.3px;width:78.0px;top:1815.2px;height:22.4px;line-height:25.6px">14.2X10.7</div>
<div class="td" style="left:43.3px;width:173.7px;top:1840.4px;height:22.4px;line-height:23.8px;text-align:left;padding-left:10.9px;letter-spacing:1.2px">NT-HR045X158-N-20M-CR</div>
<div class="td" style="left:220.0px;width:40.0px;top:1840.4px;height:22.4px;line-height:23.8px">0.45</div>
<div class="td" style="left:263.0px;width:58.2px;top:1840.4px;height:22.4px;line-height:23.8px">39.1</div>
<div class="td" style="left:324.2px;width:62.0px;top:1840.4px;height:22.4px;line-height:23.8px">17.6</div>
<div class="td" style="left:389.5px;width:63.0px;top:1840.4px;height:22.4px;line-height:23.8px">158±3%</div>
<div class="td" style="left:455.5px;width:44.5px;top:1840.4px;height:22.4px;line-height:23.8px">3.1</div>
<div class="td" style="left:503.2px;width:38.8px;top:1840.4px;height:22.4px;line-height:23.8px">F6.2</div>
<div class="td" style="left:545.0px;width:45.8px;top:1840.4px;height:22.4px;line-height:23.8px">9.1</div>
<div class="td" style="left:594.2px;width:73.3px;top:1840.4px;height:22.4px;line-height:23.8px">&gt;0.3@150</div>
<div class="td" style="left:670.8px;width:67.2px;top:1840.4px;height:22.4px;line-height:23.8px">&lt;0.121%</div>
<div class="td" style="left:741.2px;width:56.3px;top:1840.4px;height:22.4px;line-height:23.8px">C接口</div>
<div class="td" style="left:801.0px;width:91.8px;top:1840.4px;height:22.4px;line-height:23.8px">31.6X23.1</div>
<div class="td" style="left:896.0px;width:84.0px;top:1840.4px;height:22.4px;line-height:23.8px">29.1X19.6</div>
<div class="td" style="left:983.3px;width:92.7px;top:1840.4px;height:22.4px;line-height:23.8px">18.8X15.7</div>
<div class="td" style="left:1079.3px;width:78.0px;top:1840.4px;height:22.4px;line-height:23.8px">14.2X10.7</div>
<div class="td" style="left:43.3px;width:173.7px;top:1865.6px;height:21.0px;line-height:22.8px;text-align:left;padding-left:10.9px;letter-spacing:1.2px">NT-HR045X221-N-20M-CR</div>
<div class="td" style="left:220.0px;width:40.0px;top:1865.6px;height:21.0px;line-height:22.8px">0.45</div>
<div class="td" style="left:263.0px;width:58.2px;top:1865.6px;height:21.0px;line-height:22.8px">39.1</div>
<div class="td" style="left:324.2px;width:62.0px;top:1865.6px;height:21.0px;line-height:22.8px">17.6</div>
<div class="td" style="left:389.5px;width:63.0px;top:1865.6px;height:21.0px;line-height:22.8px">221±3%</div>
<div class="td" style="left:455.5px;width:44.5px;top:1865.6px;height:21.0px;line-height:22.8px">3.2</div>
<div class="td" style="left:503.2px;width:38.8px;top:1865.6px;height:21.0px;line-height:22.8px">F6.9</div>
<div class="td" style="left:545.0px;width:45.8px;top:1865.6px;height:21.0px;line-height:22.8px">10.2</div>
<div class="td" style="left:594.2px;width:73.3px;top:1865.6px;height:21.0px;line-height:22.8px">&gt;0.3@140</div>
<div class="td" style="left:670.8px;width:67.2px;top:1865.6px;height:21.0px;line-height:22.8px">&lt;0.05%</div>
<div class="td" style="left:741.2px;width:56.3px;top:1865.6px;height:21.0px;line-height:22.8px">C接口</div>
<div class="td" style="left:801.0px;width:91.8px;top:1865.6px;height:21.0px;line-height:22.8px">31.6X23.1</div>
<div class="td" style="left:896.0px;width:84.0px;top:1865.6px;height:21.0px;line-height:22.8px">29.1X19.6</div>
<div class="td" style="left:983.3px;width:92.7px;top:1865.6px;height:21.0px;line-height:22.8px">18.8X15.7</div>
<div class="td" style="left:1079.3px;width:78.0px;top:1865.6px;height:21.0px;line-height:22.8px">14.2X10.7</div>
<div class="td" style="left:43.3px;width:173.7px;top:1889.2px;height:22.9px;line-height:24.8px;text-align:left;padding-left:10.9px;letter-spacing:1.2px">NT-HR045X271-N-20M-CR</div>
<div class="td" style="left:220.0px;width:40.0px;top:1889.2px;height:22.9px;line-height:24.8px">0.45</div>
<div class="td" style="left:263.0px;width:58.2px;top:1889.2px;height:22.9px;line-height:24.8px">39.1</div>
<div class="td" style="left:324.2px;width:62.0px;top:1889.2px;height:22.9px;line-height:24.8px">17.6</div>
<div class="td" style="left:389.5px;width:63.0px;top:1889.2px;height:22.9px;line-height:24.8px">271±3%</div>
<div class="td" style="left:455.5px;width:44.5px;top:1889.2px;height:22.9px;line-height:24.8px">3.4</div>
<div class="td" style="left:503.2px;width:38.8px;top:1889.2px;height:22.9px;line-height:24.8px">F7.1</div>
<div class="td" style="left:545.0px;width:45.8px;top:1889.2px;height:22.9px;line-height:24.8px">10.5</div>
<div class="td" style="left:594.2px;width:73.3px;top:1889.2px;height:22.9px;line-height:24.8px">&gt;0.3@145</div>
<div class="td" style="left:670.8px;width:67.2px;top:1889.2px;height:22.9px;line-height:24.8px">&lt;0.059%</div>
<div class="td" style="left:741.2px;width:56.3px;top:1889.2px;height:22.9px;line-height:24.8px">C接口</div>
<div class="td" style="left:801.0px;width:91.8px;top:1889.2px;height:22.9px;line-height:24.8px">31.6X23.1</div>
<div class="td" style="left:896.0px;width:84.0px;top:1889.2px;height:22.9px;line-height:24.8px">29.1X19.6</div>
<div class="td" style="left:983.3px;width:92.7px;top:1889.2px;height:22.9px;line-height:24.8px">18.8X15.7</div>
<div class="td" style="left:1079.3px;width:78.0px;top:1889.2px;height:22.9px;line-height:24.8px">14.2X10.7</div>
</body></html>
